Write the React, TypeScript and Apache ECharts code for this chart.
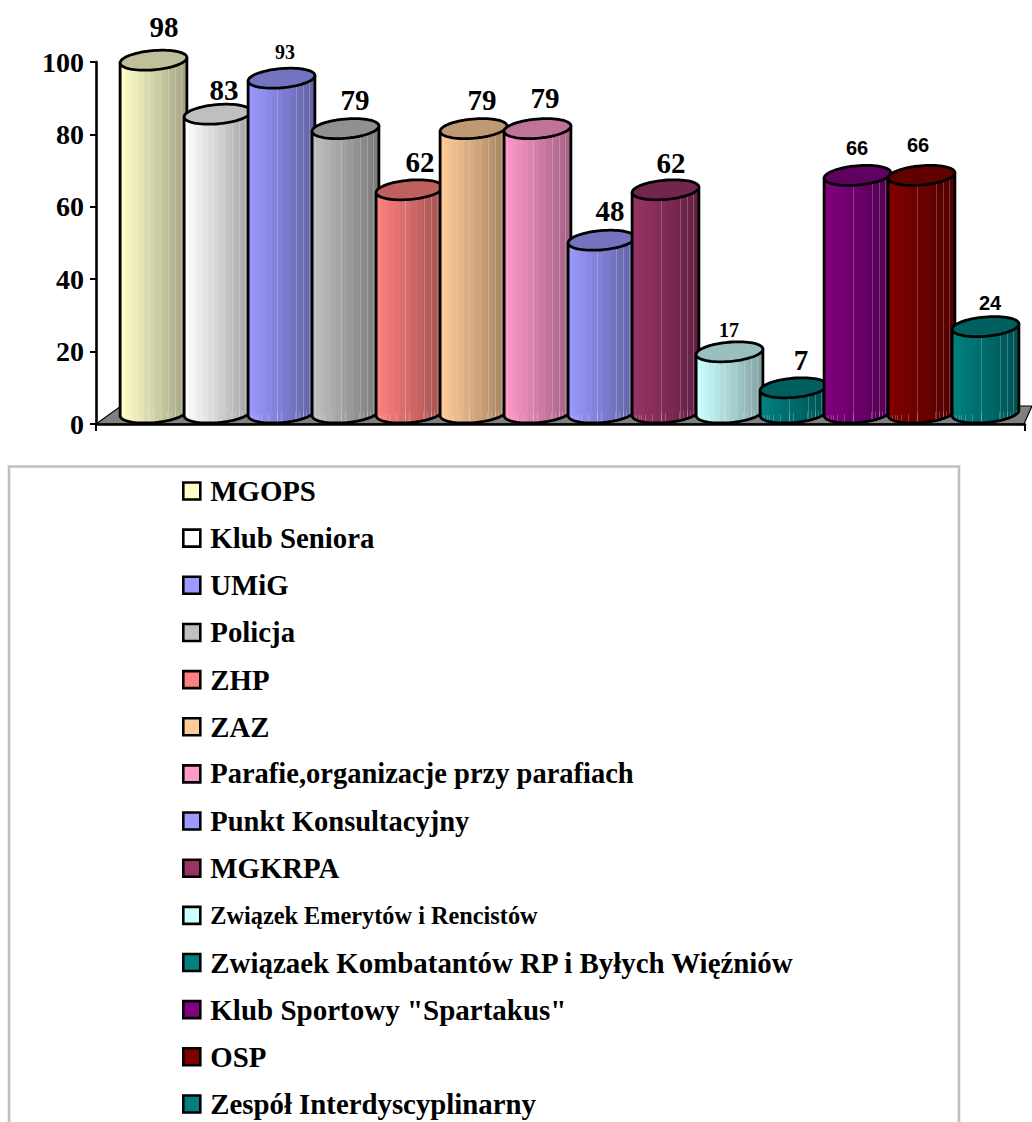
import React, { useEffect, useRef } from "react";
import * as echarts from "echarts";

const categories = ["MGOPS", "Klub Seniora", "UMiG", "Policja", "ZHP", "ZAZ", "Parafie,organizacje przy parafiach", "Punkt Konsultacyjny", "MGKRPA", "Związek Emerytów i Rencistów", "Związaek Kombatantów RP i Byłych Więźniów", 'Klub Sportowy "Spartakus"', "OSP", "Zespół Interdyscyplinarny"];
const values = [98, 83, 93, 79, 62, 79, 79, 48, 62, 17, 7, 66, 66, 24];
const colors = ["#FFFFCC", "#FFFFFF", "#9999FF", "#C0C0C0", "#FF8080", "#FFCC99", "#FF99CC", "#9999FF", "#993366", "#CCFFFF", "#008080", "#800080", "#800000", "#008080"];
const yTicks = [0, 20, 40, 60, 80, 100];

const labelSizes = [29, 29, 20, 29, 29, 29, 29, 29, 29, 20, 29, 20, 20, 20];
const labelFamilies = ["s", "s", "s", "s", "s", "s", "s", "s", "s", "s", "s", "a", "a", "a"];
const labelDx = [10.5, 6.5, 3.5, 9.5, 10.5, 8.5, 7.5, 8.5, 5.5, -0.5, 7.5, -0.5, -3.5, 4.5];
const labelDy = [-33, -24.2, -25.9, -28.6, -27.8, -28.6, -30.6, -29, -26.8, -21.8, -27.8, -27.3, -30.3, -23.5];
const legendSizes = [28.8, 28.8, 28.8, 28.8, 28.8, 28.8, 28.5, 28.5, 28.8, 24.3, 28.9, 29, 28.8, 28.8];

const SERIF = '"Liberation Serif", "Times New Roman", serif';
const SANS = '"Liberation Sans", Arial, sans-serif';
const A = 33.5;
const B = 9.6;
const TILT = (5 * Math.PI) / 180;

const bandEdges = [0, 0.07, 0.13, 0.2, 0.28, 0.36, 0.43, 0.52, 0.62, 0.68, 0.72, 0.78, 0.82, 0.87, 0.91, 0.95, 1];
const stripeEdges = [0.43, 0.62, 0.72, 0.82, 0.91];
const lowStripes = [0.03, 0.06, 0.1, 0.14, 0.2, 0.3, 0.43, 0.5, 0.62, 0.7, 0.76, 0.82, 0.87, 0.92, 0.96];

function rgb(hex: string) {
  return [1, 3, 5].map((k) => parseInt(hex.slice(k, k + 2), 16));
}
function mix(hex: string, f: number, w = 0) {
  const c = rgb(hex).map((x) => Math.round(x * f + (255 - x * f) * w));
  return `rgb(${c[0]},${c[1]},${c[2]})`;
}
function bodyFill(hex: string) {
  const stops: { offset: number; color: string }[] = [];
  const shade = (p: number) => 1 - 0.37 * p;
  for (let k = 0; k < bandEdges.length - 1; k++) {
    const s = bandEdges[k];
    const e = bandEdges[k + 1];
    const col = mix(hex, shade(s + 0.01));
    const start = stripeEdges.includes(s);
    if (start) {
      stops.push({ offset: s, color: mix(hex, shade(s), 0.22) });
      stops.push({ offset: s + 0.012, color: mix(hex, shade(s), 0.22) });
      stops.push({ offset: s + 0.012, color: col });
    } else {
      stops.push({ offset: s, color: col });
    }
    stops.push({ offset: e, color: col });
  }
  return new echarts.graphic.LinearGradient(0, 0, 1, 0, stops);
}
function lowFill() {
  const stops: { offset: number; color: string }[] = [];
  const clear = "rgba(255,255,255,0)";
  const lit = "rgba(255,255,255,0.22)";
  lowStripes.forEach((p) => {
    stops.push({ offset: p, color: clear });
    stops.push({ offset: p, color: lit });
    stops.push({ offset: p + 0.012, color: lit });
    stops.push({ offset: p + 0.012, color: clear });
  });
  return new echarts.graphic.LinearGradient(0, 0, 1, 0, stops);
}
function ell(cx: number, cy: number, t: number, a = A, b = B) {
  const c = Math.cos(t);
  const s = Math.sin(t);
  return [cx + a * c * Math.cos(TILT) + b * s * Math.sin(TILT), cy - a * c * Math.sin(TILT) + b * s * Math.cos(TILT)];
}
const T0 = Math.atan2(B * Math.sin(TILT), A * Math.cos(TILT));

function cylinder(i: number) {
  return (_: any, api: any) => {
    const v = api.value(1);
    const top = api.coord([api.value(0), v]);
    const base = api.coord([api.value(0), 0]);
    const low = api.coord([api.value(0), 2.5]);
    const cx = top[0];
    const arc: number[][] = [];
    for (let k = 0; k <= 40; k++) arc.push(ell(cx, base[1], T0 + (Math.PI * k) / 40));
    const body = [...arc, ell(cx, top[1], T0 + Math.PI), ell(cx, top[1], T0)];
    const lowPts = [...arc.map((p) => [p[0], Math.max(p[1], low[1])])];
    const lid: number[][] = [];
    for (let k = 0; k < 72; k++) lid.push(ell(cx, top[1], (2 * Math.PI * k) / 72));
    const col = colors[i];
    return {
      type: "group",
      children: [
        { type: "polygon", shape: { points: body }, style: { fill: bodyFill(col), stroke: null } },
        { type: "polygon", shape: { points: lowPts }, style: { fill: lowFill(), stroke: null } },
        { type: "polygon", shape: { points: body }, style: { fill: "none", stroke: "#000", lineWidth: 2.8, lineJoin: "round" } },
        { type: "polygon", shape: { points: lid }, style: { fill: mix(col, 0.75), stroke: "#000", lineWidth: 2.8, lineJoin: "round" } },
        {
          type: "text",
          style: {
            text: String(v),
            x: cx + labelDx[i],
            y: top[1] + labelDy[i],
            align: "center",
            verticalAlign: "middle",
            fontFamily: labelFamilies[i] === "a" ? SANS : SERIF,
            fontWeight: "bold",
            fontSize: labelSizes[i],
            fill: "#000",
          },
        },
      ],
    };
  };
}

export default function App() {
  const ref = useRef<HTMLDivElement>(null);
  useEffect(() => {
    const chart = echarts.init(ref.current!, null, { renderer: "svg" });
    chart.setOption({
      animation: false,
      backgroundColor: "#fff",
      grid: [
        { left: 96, top: 62, width: 929, height: 362 },
        { left: 121.5, top: 53, width: 896, height: 360 },
      ],
      xAxis: [
        {
          gridIndex: 0,
          type: "category",
          data: [""],
          axisLine: { lineStyle: { color: "#000", width: 2.6 } },
          axisTick: { show: true, length: 7, lineStyle: { color: "#000", width: 2 } },
          axisLabel: { show: false },
        },
        { gridIndex: 1, type: "category", data: categories, show: false },
      ],
      yAxis: [
        {
          gridIndex: 0,
          type: "value",
          min: 0,
          max: 100,
          interval: yTicks[1] - yTicks[0],
          splitLine: { show: false },
          axisLine: { show: true, lineStyle: { color: "#000", width: 2.6 } },
          axisTick: { show: true, length: 6, lineStyle: { color: "#000", width: 2 } },
          axisLabel: { margin: 12, color: "#000", fontFamily: SERIF, fontWeight: "bold", fontSize: 28 },
        },
        { gridIndex: 1, type: "value", min: 0, max: 100, show: false },
      ],
      legend: {
        orient: "vertical",
        left: 182,
        top: 476,
        padding: 0,
        itemGap: 17.15,
        itemWidth: 27,
        itemHeight: 17,
        selectedMode: false,
        icon: "path://M0 0H10V10H0Z",
        data: categories.map((name, i) => ({
          name,
          itemStyle: { color: colors[i], borderColor: "#000", borderWidth: 2.6 },
          textStyle: { fontFamily: SERIF, fontWeight: "bold", fontSize: legendSizes[i], color: "#000", lineHeight: 30, height: 30 },
        })),
      },
      graphic: [
        {
          type: "polygon",
          z: 0,
          shape: { points: [[96, 424], [121, 406], [1032, 406], [1024, 424]] },
          style: { fill: "#808080", stroke: "#000", lineWidth: 1.2 },
        },
        {
          type: "polyline",
          shape: { points: [[9, 1130], [9, 466.5], [959, 466.5], [959, 1130]] },
          style: { fill: "none", stroke: "#C0C0C0", lineWidth: 2.6 },
        },
      ],
      series: categories.map((name, i) => ({
        type: "custom",
        name,
        xAxisIndex: 1,
        yAxisIndex: 1,
        clip: false,
        itemStyle: { color: colors[i] },
        data: [[i, values[i]]],
        renderItem: cylinder(i),
      })),
    });
    return () => chart.dispose();
  }, []);
  return <div ref={ref} style={{ position: "absolute", left: 0, top: 0, width: 1032, height: 1122 }} />;
}
